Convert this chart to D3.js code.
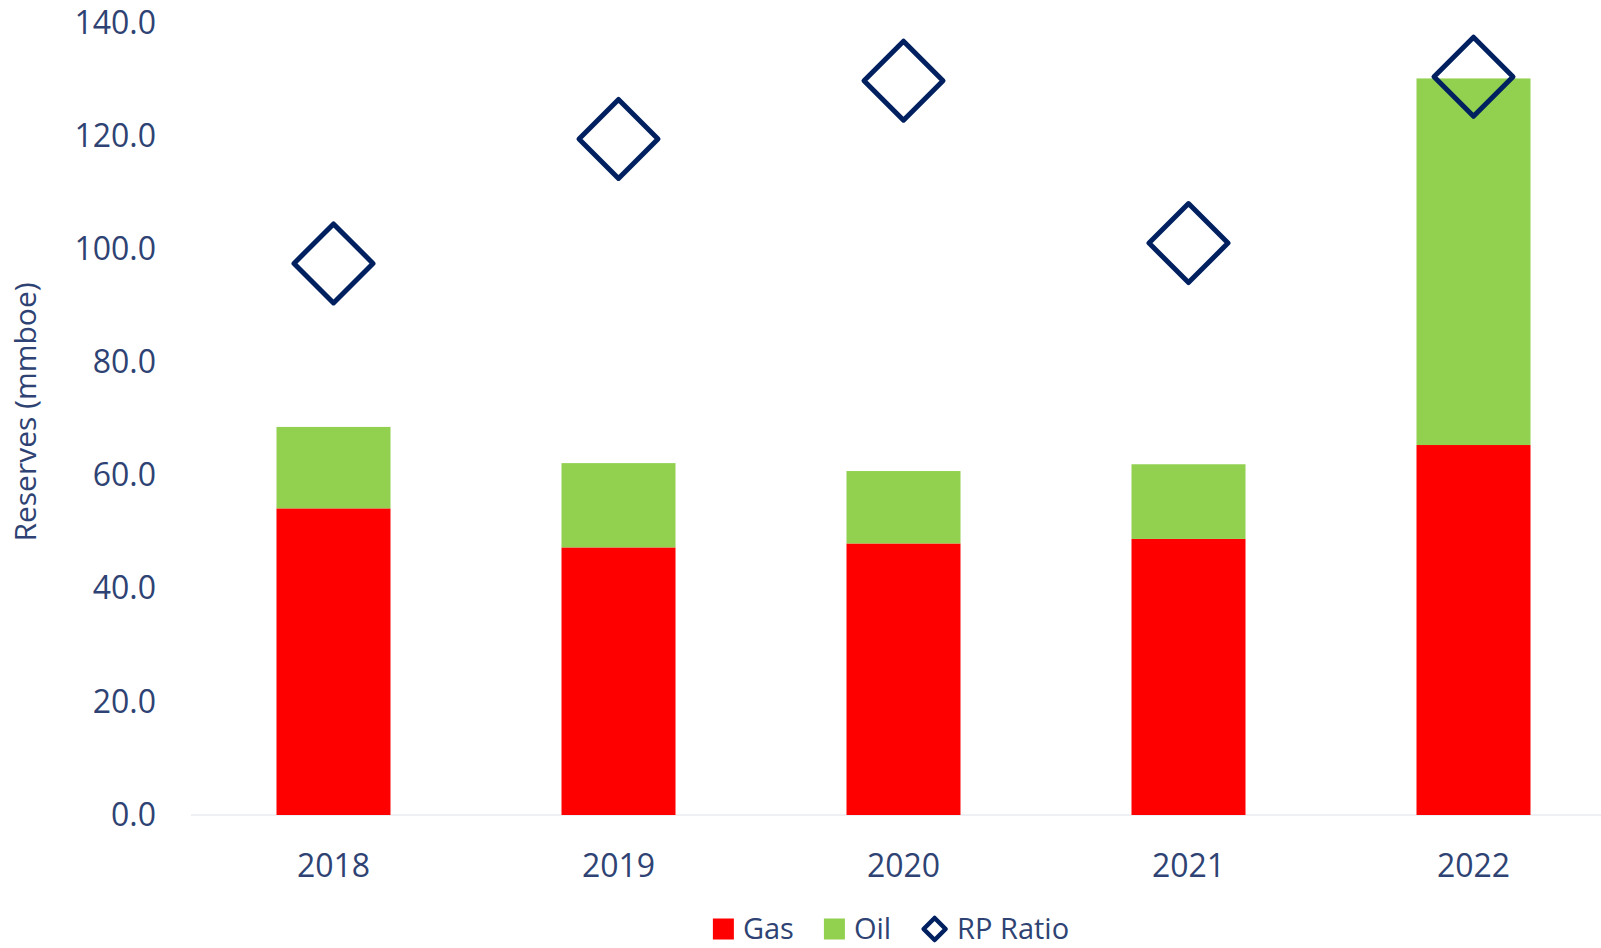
<!DOCTYPE html>
<html>
<head>
<meta charset="utf-8">
<script src="https://cdn.jsdelivr.net/npm/d3@7"></script>
<style>
  html, body { margin: 0; padding: 0; background: #ffffff; }
  svg { display: block; font-family: "Open Sans", "Noto Sans", sans-serif; }
</style>
</head>
<body>
<svg id="chart"></svg>
<script>
// ---- data ----
const years = ["2018", "2019", "2020", "2021", "2022"];
const gas = [54.2, 47.3, 48.0, 48.8, 65.4];
const oil = [14.4, 14.9, 12.8, 13.2, 64.8];
const rpRatio = [97.5, 119.5, 129.8, 101.1, 130.5];
const yTicks = [0, 20, 40, 60, 80, 100, 120, 140];

// ---- layout ----
const W = 1601, H = 948;
const textColor = "#2e4373";
const gasColor = "#ff0000", oilColor = "#92d050", rpColor = "#002060";

const svg = d3.select("#chart").attr("width", W).attr("height", H);

// x scale — one band per year
const x = d3.scaleBand()
  .domain(years)
  .range([191, 1616])
  .paddingInner(0.6)
  .paddingOuter(0.3);

// y scale — reserves
const y = d3.scaleLinear()
  .domain([0, 140])
  .range([815, 23]);

// stacked rows
const rows = years.map((yr, i) => ({ year: yr, Gas: gas[i], Oil: oil[i], rp: rpRatio[i] }));
const stack = d3.stack().keys(["Gas", "Oil"]);
const series = stack(rows);
const color = d3.scaleOrdinal().domain(["Gas", "Oil"]).range([gasColor, oilColor]);

// baseline
svg.append("line")
  .attr("x1", x.range()[0])
  .attr("x2", x.range()[1])
  .attr("y1", y(0))
  .attr("y2", y(0))
  .attr("stroke", "#eef0f4")
  .attr("stroke-width", 2);

// bars
svg.append("g")
  .selectAll("g")
  .data(series)
  .enter()
  .append("g")
  .attr("fill", d => color(d.key))
  .selectAll("rect")
  .data(d => d)
  .enter()
  .append("rect")
  .attr("x", d => x(d.data.year))
  .attr("y", d => y(d[1]))
  .attr("width", x.bandwidth())
  .attr("height", d => y(d[0]) - y(d[1]));

// RP ratio diamonds
const diamond = r => `M0,${-r}L${r},0L0,${r}L${-r},0Z`;
svg.append("g")
  .selectAll("path")
  .data(rows)
  .enter()
  .append("path")
  .attr("transform", d => `translate(${x(d.year) + x.bandwidth() / 2},${y(d.rp)})`)
  .attr("d", diamond(39.5))
  .attr("fill", "none")
  .attr("stroke", rpColor)
  .attr("stroke-width", 5)
  .attr("stroke-linejoin", "round");

// Y axis
const yAxis = svg.append("g")
  .attr("transform", `translate(${x.range()[0]},0)`)
  .call(d3.axisLeft(y).tickValues(yTicks).tickFormat(d3.format(".1f")).tickSize(0).tickPadding(35));
yAxis.select(".domain").remove();
yAxis.selectAll("text")
  .attr("fill", textColor)
  .style("font-size", "32px")
  .style("font-family", "'Open Sans', sans-serif");

// Y axis label
svg.append("text")
  .attr("transform", "translate(25,412) rotate(-90)")
  .attr("text-anchor", "middle")
  .attr("dy", "0.35em")
  .attr("fill", textColor)
  .style("font-size", "30px")
  .text("Reserves (mmboe)");

// X axis
const xAxis = svg.append("g")
  .attr("transform", `translate(0,${y(0)})`)
  .call(d3.axisBottom(x).tickSize(0).tickPadding(39));
xAxis.select(".domain").remove();
xAxis.selectAll("text")
  .attr("fill", textColor)
  .style("font-size", "32px")
  .style("font-family", "'Open Sans', sans-serif");

// Legend
const legendItems = [
  { label: "Gas", type: "rect", color: gasColor },
  { label: "Oil", type: "rect", color: oilColor },
  { label: "RP Ratio", type: "diamond", color: rpColor }
];
const legendY = 929;
const legend = svg.append("g").attr("transform", `translate(0,${legendY})`);
let lx = 0;
legendItems.forEach((d, i) => {
  const row = legend.append("g").attr("transform", `translate(${lx},0)`);
  if (d.type === "rect") {
    row.append("rect")
      .attr("x", 0)
      .attr("y", -10.5)
      .attr("width", 21)
      .attr("height", 21)
      .attr("fill", d.color);
  } else {
    row.append("path")
      .attr("transform", "translate(13.5,0)")
      .attr("d", diamond(11))
      .attr("fill", "none")
      .attr("stroke", d.color)
      .attr("stroke-width", 4.5)
      .attr("stroke-linejoin", "round");
  }
  const sw = d.type === "rect" ? 21 : 27;
  const t = row.append("text")
    .attr("x", sw + 9)
    .attr("y", 0)
    .attr("dy", "0.34em")
    .attr("fill", textColor)
    .style("font-size", "29px")
    .text(d.label);
  lx += sw + 9 + t.node().getComputedTextLength() + 30;
});
const legendWidth = lx - 30;
legend.attr("transform", `translate(${891 - legendWidth / 2},${legendY})`);
</script>
</body>
</html>
